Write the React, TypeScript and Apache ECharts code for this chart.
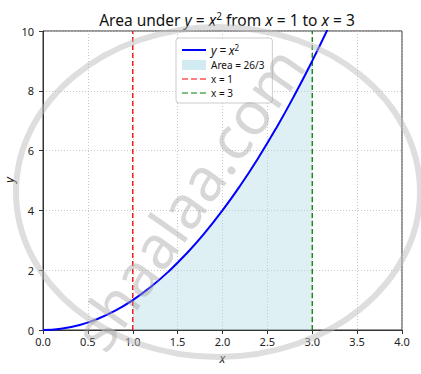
import React, { useEffect, useRef } from "react";
import * as echarts from "echarts";

const curveX = [0, 0.2, 0.4, 0.6, 0.8, 1.0, 1.2, 1.4, 1.6, 1.8, 2.0, 2.2, 2.4, 2.6, 2.8, 3.0, 3.2];
const curveY = [0, 0.04, 0.16, 0.36, 0.64, 1.0, 1.44, 1.96, 2.56, 3.24, 4.0, 4.84, 5.76, 6.76, 7.84, 9.0, 10.24];
const areaX = [1.0, 1.2, 1.4, 1.6, 1.8, 2.0, 2.2, 2.4, 2.6, 2.8, 3.0];
const areaY = [1.0, 1.44, 1.96, 2.56, 3.24, 4.0, 4.84, 5.76, 6.76, 7.84, 9.0];
const line1X = [1, 1];
const line3X = [3, 3];
const vlineY = [0, 10];

const FONT = "Noto Sans";
const DASH = "path://M0,4.5 L6,4.5 L6,5.5 L0,5.5 Z M9,4.5 L15,4.5 L15,5.5 L9,5.5 Z M18,4.5 L24,4.5 L24,5.5 L18,5.5 Z";

export default function App() {
  const ref = useRef<HTMLDivElement>(null);
  useEffect(() => {
    const chart = echarts.init(ref.current!, null, { renderer: "svg" });
    const zip = (xs: number[], ys: number[]) => xs.map((x, i) => [x, ys[i]]);
    chart.setOption({
      animation: false,
      textStyle: { fontFamily: FONT },
      title: {
        text: "Area under {i|y} = {i|x}{sup|2} from {i|x} = 1 to {i|x} = 3",
        left: 222,
        textAlign: "center",
        top: 6,
        textStyle: {
          fontSize: 15.5,
          fontWeight: "normal",
          color: "#111",
          fontFamily: FONT,
          rich: {
            i: { fontStyle: "italic", fontSize: 15.5, color: "#111", fontFamily: FONT },
            sup: { fontSize: 10, verticalAlign: "top", padding: [0, 0, 8, 0], color: "#111", fontFamily: FONT },
          },
        },
      },
      grid: {
        left: 43, right: 19, top: 31, bottom: 44,
        show: true, borderColor: "#333", borderWidth: 1,
        containLabel: false, outerBoundsMode: "none",
      },
      legend: {
        orient: "vertical",
        left: 176,
        top: 38,
        backgroundColor: "#fff",
        borderColor: "#ccc",
        borderWidth: 1,
        borderRadius: 3,
        padding: [5, 8, 5, 6],
        itemGap: 4,
        itemWidth: 24,
        itemHeight: 10,
        textStyle: {
          fontSize: 10,
          color: "#111",
          rich: {
            i: { fontStyle: "italic", fontSize: 12, color: "#111" },
            sup: { fontSize: 8, verticalAlign: "top", padding: [0, 0, 6, 0], color: "#111" },
          },
        },
        formatter: (name: string) =>
          name === "y = x^2" ? "{i|y} {i|=} {i|x}{sup|2}" : name,
        data: [
          { name: "y = x^2", icon: "path://M0,4 L24,4 L24,6 L0,6 Z", itemStyle: { color: "#0000ff" } },
          { name: "Area = 26/3", icon: "rect", itemStyle: { color: "rgba(173,216,230,0.55)" } },
          { name: "x = 1", icon: DASH, itemStyle: { color: "#ff0000" } },
          { name: "x = 3", icon: DASH, itemStyle: { color: "#008000" } },
        ],
      },
      xAxis: {
        type: "value",
        min: 0,
        max: 4,
        interval: 0.5,
        name: "x",
        nameLocation: "middle",
        nameGap: 22,
        nameTextStyle: { fontStyle: "italic", fontSize: 12, color: "#111" },
        axisLine: { show: true, lineStyle: { color: "#333" } },
        axisTick: { show: true, inside: false, length: 4, lineStyle: { color: "#333" } },
        axisLabel: { fontSize: 11, lineHeight: 11, color: "#222", margin: 6, formatter: (v: number) => v.toFixed(1) },
        splitLine: { show: true, lineStyle: { type: [1, 2], color: "#bbb", width: 0.8 } },
      },
      yAxis: {
        type: "value",
        min: 0,
        max: 10,
        interval: 2,
        axisLine: { show: true, lineStyle: { color: "#333" } },
        axisTick: { show: true, inside: false, length: 4, lineStyle: { color: "#333" } },
        axisLabel: { fontSize: 11, lineHeight: 11, color: "#222", margin: 9 },
        splitLine: { show: true, lineStyle: { type: [1, 2], color: "#bbb", width: 0.8 } },
      },
      series: [
        {
          name: "Area = 26/3",
          type: "line",
          data: zip(areaX, areaY),
          smooth: true,
          showSymbol: false,
          lineStyle: { width: 0 },
          itemStyle: { color: "rgba(173,216,230,0.55)" },
          areaStyle: { color: "rgba(173,216,230,0.55)", origin: "start" },
          z: 1,
        },
        {
          name: "y = x^2",
          type: "line",
          data: zip(curveX, curveY),
          smooth: true,
          showSymbol: false,
          clip: true,
          lineStyle: { color: "#0000ff", width: 2 },
          itemStyle: { color: "#0000ff" },
          z: 3,
        },
        {
          name: "x = 1",
          type: "line",
          data: zip(line1X, vlineY),
          showSymbol: false,
          lineStyle: { color: "#ff0000", width: 1.3, type: [5, 3] },
          itemStyle: { color: "#ff0000" },
          z: 2,
        },
        {
          name: "x = 3",
          type: "line",
          data: zip(line3X, vlineY),
          showSymbol: false,
          lineStyle: { color: "#008000", width: 1.3, type: [5, 3] },
          itemStyle: { color: "#008000" },
          z: 2,
        },
      ],
      graphic: [
        {
          type: "text",
          silent: true,
          x: 9,
          y: 180,
          rotation: Math.PI / 2,
          style: {
            text: "y",
            fontSize: 12,
            fontStyle: "italic",
            fontFamily: FONT,
            fill: "#111",
            align: "center",
            verticalAlign: "middle",
          },
        },
        {
          type: "ellipse",
          z: 100,
          silent: true,
          shape: { cx: 218, cy: 192, rx: 202, ry: 165 },
          style: { fill: "none", stroke: "rgba(190,190,190,0.5)", lineWidth: 6 },
        },
        {
          type: "text",
          z: 100,
          silent: true,
          x: 188,
          y: 198,
          rotation: (55 * Math.PI) / 180,
          style: {
            text: "shaalaa.com",
            fontSize: 60,
            fontFamily: FONT,
            fontWeight: "normal",
            fill: "rgba(160,160,160,0.42)",
            align: "center",
            verticalAlign: "middle",
          },
        },
      ],
    });
    return () => chart.dispose();
  }, []);
  return <div ref={ref} style={{ width: 421, height: 374, position: "absolute", left: 0, top: 0 }} />;
}
